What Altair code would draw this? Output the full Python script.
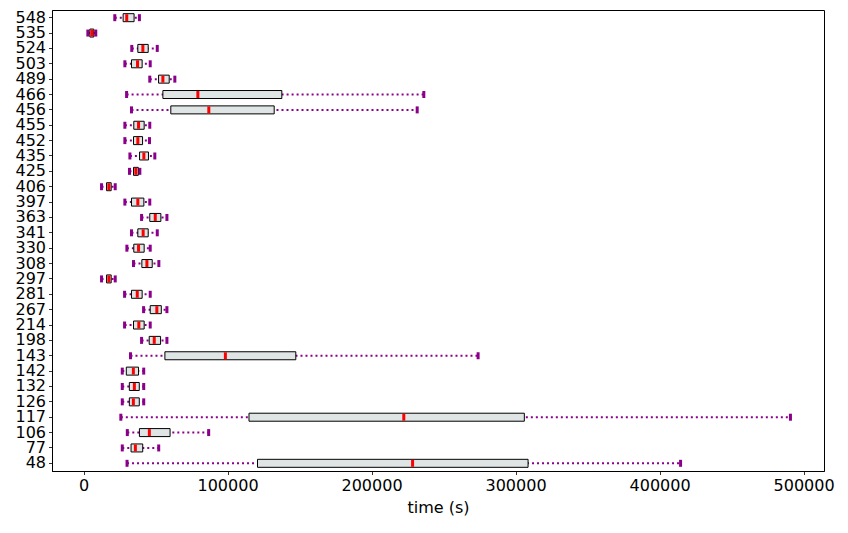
import altair as alt
import pandas as pd

categories = [48, 77, 106, 117, 126, 132, 142, 143, 198, 214, 267, 281, 297, 308, 330,
              341, 363, 397, 406, 425, 435, 452, 455, 456, 466, 489, 503, 524, 535, 548]
whisker_low = [30200, 26900, 30400, 25900, 26900, 26900, 26900, 32600, 40300, 28500, 41700, 28500, 12500, 34700, 30100,
               33300, 40300, 28700, 12500, 31900, 32200, 28700, 28700, 33300, 29900, 46000, 28700, 33500, 3000, 21700]
q1 = [120800, 33000, 38800, 114900, 31800, 31800, 29700, 56500, 45600, 34700, 46300, 33300, 16000, 40500, 34900,
      37700, 46000, 33300, 16000, 34700, 38900, 34700, 34900, 60600, 55100, 52100, 33300, 37700, 4400, 27500]
median = [228500, 36000, 45700, 222400, 34600, 35300, 34600, 98500, 49100, 38400, 50900, 37300, 17600, 44000, 38200,
          41400, 49800, 37700, 17600, 36300, 41900, 37700, 38200, 87000, 79400, 55100, 37500, 41200, 5800, 30000]
q3 = [308700, 41100, 60100, 306100, 38700, 38700, 38200, 147400, 53500, 42100, 54000, 40700, 19200, 47700, 42100,
      44900, 53700, 41900, 19200, 38000, 45100, 41000, 42100, 132400, 137700, 59500, 40700, 44900, 7100, 35100]
whisker_high = [414600, 52200, 86900, 490900, 41800, 41800, 41800, 274000, 57900, 46300, 57900, 46300, 22000, 52300, 46300,
                51200, 57900, 46000, 22000, 39100, 49500, 45800, 46000, 231700, 236300, 63400, 46300, 51200, 8500, 38800]

df = pd.DataFrame({
    "cat": [str(c) for c in categories],
    "lo": whisker_low, "q1": q1, "med": median, "q3": q3, "hi": whisker_high,
})

order = [str(c) for c in reversed(categories)]
font = "DejaVu Sans"

xscale = alt.Scale(domain=[-21900, 514200], nice=False, zero=False)
yscale = alt.Scale(paddingInner=0, paddingOuter=0)

y_enc = alt.Y("cat:N", sort=order, scale=yscale, title=None,
              axis=alt.Axis(labelFont=font, labelFontSize=16, labelColor="black",
                            tickColor="black", tickSize=3.5, tickWidth=0.8,
                            domainColor="black", domainWidth=1, labelPadding=3))
x_axis = alt.Axis(values=[0, 100000, 200000, 300000, 400000, 500000], format="d",
                  labelFont=font, labelFontSize=16, labelColor="black",
                  tickColor="black", tickSize=3.5, tickWidth=0.8,
                  domainColor="black", domainWidth=1, labelPadding=3,
                  grid=False, title="time (s)", titleFont=font, titleFontSize=16,
                  titleFontWeight="normal", titleColor="black", titlePadding=6)

base = alt.Chart(df)

whisk = base.mark_rule(color="#8b008b", strokeWidth=2, strokeDash=[2, 3]).encode(
    x=alt.X("lo:Q", scale=xscale, axis=x_axis), x2="hi:Q", y=y_enc)
cap_lo = base.mark_tick(color="#8b008b", size=7, thickness=3, opacity=1).encode(
    x=alt.X("lo:Q", scale=xscale), y=y_enc)
cap_hi = base.mark_tick(color="#8b008b", size=7, thickness=3, opacity=1).encode(
    x=alt.X("hi:Q", scale=xscale), y=y_enc)
box = base.mark_bar(size=8, fill="#dfe5e5", stroke="black", strokeWidth=1).encode(
    x=alt.X("q1:Q", scale=xscale), x2="q3:Q", y=y_enc)
med = base.mark_tick(color="red", size=7, thickness=3, opacity=1).encode(
    x=alt.X("med:Q", scale=xscale), y=y_enc)

chart = alt.layer(whisk, cap_lo, cap_hi, box, med).properties(
    width=772, height=461,
    background="white",
    autosize=alt.AutoSizeParams(type="none"),
    padding={"left": 52, "top": 10, "right": 24, "bottom": 62},
).configure_view(stroke="black", strokeWidth=1)

chart.save("out.html", embed_options={"renderer": "svg", "actions": False})
